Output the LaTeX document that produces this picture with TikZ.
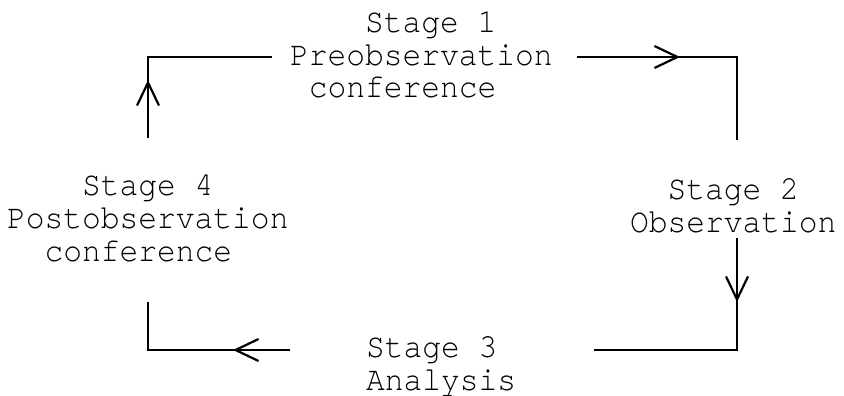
\documentclass[tikz,border=0pt]{standalone}
\usepackage{fontspec}
\setmainfont{texgyrecursor-regular.otf}[FakeStretch=0.92]
\usetikzlibrary{arrows.meta,decorations.markings}
\newcommand{\firstline}{\rule{0pt}{22pt}}
\tikzset{
  stagetext/.style={anchor=north west, inner sep=0pt, outer sep=0pt, align=left,
    font=\fontsize{34}{33}\selectfont},
  cycleline/.style={line width=1.7pt, line cap=butt, line join=miter},
  midarrow/.style={postaction={decorate}, decoration={markings,
    mark=at position #1 with {\arrow{Straight Barb[length=23pt,width=22pt,line width=2.2pt]}}}}
}
\begin{document}
\begin{tikzpicture}[x=1pt,y=-1pt]
\useasboundingbox (0,0) rectangle (844,396);
% text nodes (top = baseline of first line - 22)
\node[stagetext] (s1) at (290,10) {\firstline\hphantom{0000}Stage 1\\Preobservation\\\hphantom{0}conference};
\node[stagetext] (s2) at (630,177) {\firstline\hphantom{00}Stage 2\\Observation};
\node[stagetext] (s3) at (366,335) {\firstline Stage 3\\Analysis};
\node[stagetext] (s4) at (7,173) {\firstline\hphantom{0000}Stage 4\\Postobservation\\\hphantom{00}conference};
% corners and free ends
\coordinate (ctl) at (148,57);
\coordinate (ctr) at (737,57);
\coordinate (cbr) at (737,350);
\coordinate (cbl) at (148,350);
\coordinate (e1a) at (272,57);
\coordinate (e1b) at (577,57);
\coordinate (e2a) at (737,140);
\coordinate (e2b) at (737,238);
\coordinate (e3a) at (594,350);
\coordinate (e3b) at (290,350);
\coordinate (e4a) at (148,302);
\coordinate (e4b) at (148,138);
% connectors
\draw[cycleline, midarrow=103pt] (e1b) -- (ctr) -- (e2a);
\draw[cycleline, midarrow=64pt] (e2b) -- (cbr) -- (e3a);
\draw[cycleline, midarrow=57pt] (e3b) -- (cbl) -- (e4a);
\draw[cycleline, midarrow=58pt] (e4b) -- (ctl) -- (e1a);
\end{tikzpicture}
\end{document}
